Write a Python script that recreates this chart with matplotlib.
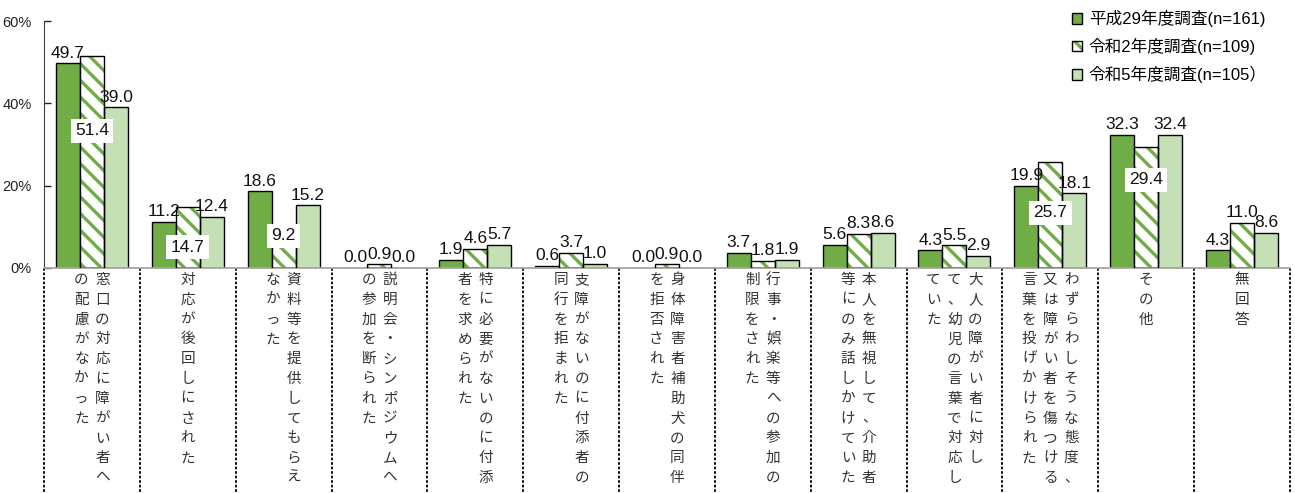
import matplotlib
matplotlib.use('Agg')
import matplotlib.pyplot as plt
from matplotlib.patches import Patch
import numpy as np

plt.rcParams['font.family'] = ['Liberation Sans', 'Noto Sans CJK JP']
plt.rcParams['hatch.linewidth'] = 2.4

# category labels, vertical columns (right-most column first)
categories = [
    ['窓口の対応に障がい者へ', 'の配慮がなかった'],
    ['対応が後回しにされた'],
    ['資料等を提供してもらえ', 'なかった'],
    ['説明会・シンポジウムへ', 'の参加を断られた'],
    ['特に必要がないのに付添', '者を求められた'],
    ['支障がないのに付添者の', '同行を拒まれた'],
    ['身体障害者補助犬の同伴', 'を拒否された'],
    ['行事・娯楽等への参加の', '制限をされた'],
    ['本人を無視して、介助者', '等にのみ話しかけていた'],
    ['大人の障がい者に対し', 'て、幼児の言葉で対応し', 'ていた'],
    ['わずらわしそうな態度、', '又は障がい者を傷つける', '言葉を投げかけられた'],
    ['その他'],
    ['無回答'],
]

series_names = ['平成29年度調査(n=161)', '令和2年度調査(n=109)', '令和5年度調査(n=105）']
h29 = [49.7, 11.2, 18.6, 0.0, 1.9, 0.6, 0.0, 3.7, 5.6, 4.3, 19.9, 32.3, 4.3]
r2 = [51.4, 14.7, 9.2, 0.9, 4.6, 3.7, 0.9, 1.8, 8.3, 5.5, 25.7, 29.4, 11.0]
r5 = [39.0, 12.4, 15.2, 0.0, 5.7, 1.0, 0.0, 1.9, 8.6, 2.9, 18.1, 32.4, 8.6]

# r2 labels drawn inside the bar (index -> y position of label)
inside_pos = {0: 33.3, 1: 5.1, 2: 7.8, 10: 13.4, 11: 21.4}

dark = '#70AD47'
light = '#C5E0B4'

fig = plt.figure(figsize=(12.95, 4.93), dpi=100)
ax = fig.add_axes([0.034, 0.4564, 0.962, 0.501])

x = np.arange(len(categories))
w = 0.25

ax.bar(x - w, h29, w, color=dark, edgecolor='black', linewidth=1.0, zorder=2)
ax.bar(x, r2, w, color='white', edgecolor=dark, hatch='\\\\', linewidth=0, zorder=2)
ax.bar(x, r2, w, fill=False, edgecolor='black', linewidth=1.0, zorder=3)
ax.bar(x + w, r5, w, color=light, edgecolor='black', linewidth=1.0, zorder=2)

# value labels
fs = 12.5
for vals, off in ((h29, -w), (r5, w)):
    for i, v in enumerate(vals):
        ax.annotate(f'{v:.1f}', (i + off, v), xytext=(0, 2), textcoords='offset points',
                    ha='center', va='bottom', fontsize=fs, color='#111111')
for i, v in enumerate(r2):
    if i in inside_pos:
        ax.text(i, inside_pos[i], f'{v:.1f}', ha='center', va='center', fontsize=fs,
                color='#111111', zorder=5,
                bbox=dict(boxstyle='square,pad=0.25', fc='white', ec='none'))
    else:
        ax.annotate(f'{v:.1f}', (i, v), xytext=(0, 2), textcoords='offset points',
                    ha='center', va='bottom', fontsize=fs, color='#111111')

ax.set_xlim(-0.5, len(categories) - 0.5)
ax.set_ylim(0, 60)
ax.set_yticks([0, 20, 40, 60])
ax.set_yticklabels(['0%', '20%', '40%', '60%'])
ax.tick_params(axis='y', direction='in', length=5, width=1, pad=9, labelsize=10.5, colors='#222222')
ax.set_xticks([])
for s in ('top', 'right'):
    ax.spines[s].set_visible(False)
ax.spines['left'].set_color('#404040')
ax.spines['bottom'].set_color('#A6A6A6')
ax.spines['bottom'].set_linewidth(1.3)

# dashed separators under the axis
px = 0.72  # points per pixel at 100 dpi
for b in np.arange(len(categories) + 1) - 0.5:
    ax.plot([b, b], [0, -0.93], transform=ax.get_xaxis_transform(), clip_on=False,
            color='black', linestyle=(0, (1.5, 1)), linewidth=1.3)

# vertical japanese category labels
for i, cols in enumerate(categories):
    n = len(cols)
    for k, col in enumerate(cols):
        dx = ((n - 1) / 2 - k) * 21 * px
        for r, ch in enumerate(col):
            dy = -(12 + r * 19.8) * px
            ax.annotate(ch, (i, 0), xycoords=('data', 'axes fraction'), xytext=(dx, dy),
                        textcoords='offset points', ha='center', va='center',
                        fontsize=10.5, color='#333333', annotation_clip=False)

# legend
h_r2 = (Patch(facecolor='white', edgecolor=dark, hatch='\\\\', linewidth=0),
        Patch(fill=False, edgecolor='black', linewidth=1.0))
handles = [Patch(facecolor=dark, edgecolor='black', linewidth=1.0), h_r2,
           Patch(facecolor=light, edgecolor='black', linewidth=1.0)]
ax.legend(handles, series_names, loc='upper left', bbox_to_anchor=(1062 / 1295, 1.0),
          bbox_transform=fig.transFigure, frameon=False, fontsize=12,
          handlelength=0.6, handleheight=0.6, handletextpad=0.4, labelspacing=0.65,
          borderaxespad=0.2)

plt.savefig('out.png', dpi=100)
